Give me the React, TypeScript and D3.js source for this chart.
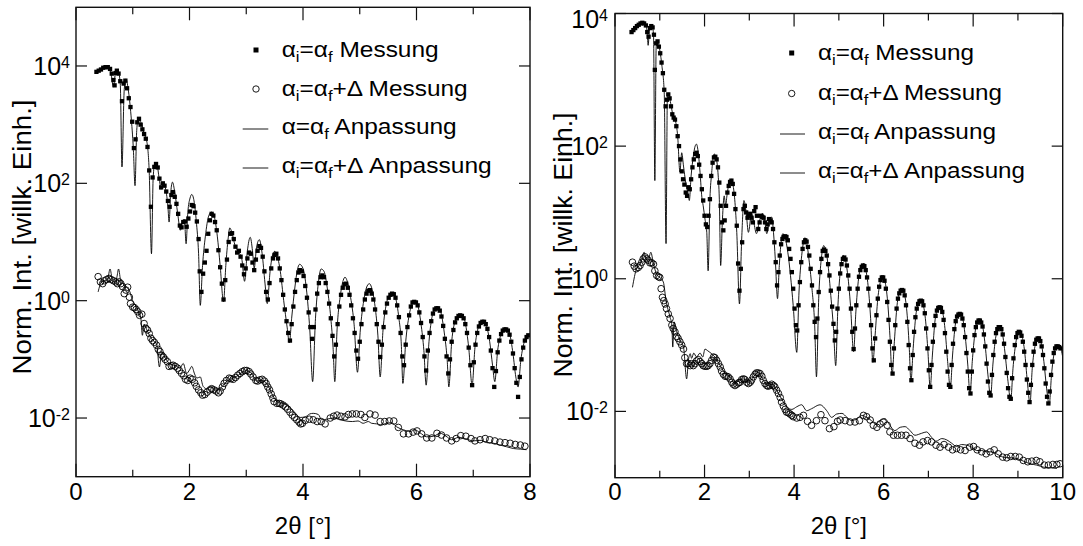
import React from "react";
import * as d3 from "d3";

// ---------- data: [2θ (deg), log10 of normalised intensity] ----------
const leftSquares: [number, number][] = [
[0.36,3.90],[0.40,3.92],[0.44,3.94],[0.48,3.97],[0.52,3.98],[0.56,3.98],[0.60,3.95],[0.63,3.87],[0.66,3.76],[0.68,3.67],[0.70,3.88],[0.72,3.92],[0.75,3.87],[0.78,3.74],[0.81,3.40],[0.84,3.70],[0.87,3.75],[0.90,3.62],[0.93,3.45],[0.96,3.30],[0.99,3.05],[1.02,2.60],[1.05,2.75],[1.08,3.04],[1.11,3.10],[1.14,3.00],[1.17,2.92],[1.20,2.84],[1.23,2.76],[1.26,2.62],[1.29,2.22],[1.32,1.60],[1.35,2.10],[1.38,2.28],[1.41,2.33],[1.44,2.27],[1.47,2.08],[1.50,1.93],[1.53,2.00],[1.56,1.96],[1.59,1.86],[1.62,1.70],[1.65,1.60],[1.68,1.80],[1.71,1.85],[1.74,1.77],[1.77,1.65],[1.80,1.48],[1.83,1.28],[1.86,1.25],[1.89,1.34],[1.92,1.35],[1.95,1.26],[1.98,1.40],[2.01,1.52],[2.04,1.63],[2.07,1.61],[2.10,1.50],[2.13,1.35],[2.16,1.05],[2.18,0.50],[2.21,0.15],[2.24,0.46],[2.27,0.65],[2.30,0.85],[2.33,1.14],[2.36,1.37],[2.39,1.48],[2.42,1.45],[2.45,1.34],[2.48,1.20],[2.51,0.86],[2.54,0.57],[2.57,0.29],[2.60,0.02],[2.63,0.35],[2.66,0.70],[2.69,1.00],[2.72,1.14],[2.75,1.15],[2.78,1.05],[2.81,0.92],[2.84,0.82],[2.87,0.85],[2.90,0.75],[2.93,0.60],[2.96,0.45],[2.99,0.55],[3.02,0.72],[3.05,0.82],[3.08,0.80],[3.11,0.65],[3.14,0.52],[3.17,0.70],[3.20,0.85],[3.23,0.93],[3.26,0.90],[3.29,0.75],[3.32,0.50],[3.35,0.15],[3.38,0.02],[3.41,0.30],[3.44,0.55],[3.47,0.72],[3.50,0.78],[3.53,0.80],[3.56,0.72],[3.59,0.55],[3.62,0.35],[3.65,0.10],[3.68,-0.15],[3.71,-0.35],[3.74,-0.55],[3.77,-0.68],[3.80,-0.40],[3.83,-0.10],[3.86,0.15],[3.89,0.35],[3.92,0.48],[3.95,0.52],[3.98,0.50],[4.01,0.42],[4.04,0.25],[4.07,0.05],[4.10,-0.20],[4.13,-0.45],[4.16,-0.65],[4.19,-0.45],[4.22,-0.15],[4.25,0.12],[4.28,0.30],[4.31,0.40],[4.34,0.43],[4.37,0.40],[4.40,0.30],[4.43,0.15],[4.46,-0.05],[4.49,-0.30],[4.52,-0.60],[4.55,-0.95],[4.58,-0.75],[4.61,-0.40],[4.64,-0.10],[4.67,0.10],[4.70,0.22],[4.73,0.28],[4.76,0.29],[4.79,0.22],[4.82,0.10],[4.85,-0.08],[4.88,-0.30],[4.91,-0.55],[4.94,-0.85],[4.97,-0.99],[5.00,-0.70],[5.03,-0.40],[5.06,-0.15],[5.09,0.02],[5.12,0.12],[5.15,0.17],[5.18,0.18],[5.21,0.12],[5.24,0.02],[5.27,-0.15],[5.30,-0.40],[5.33,-0.70],[5.36,-0.96],[5.39,-0.75],[5.42,-0.45],[5.45,-0.20],[5.48,-0.05],[5.51,0.05],[5.54,0.10],[5.57,0.12],[5.60,0.11],[5.63,0.05],[5.66,-0.08],[5.69,-0.28],[5.72,-0.55],[5.75,-0.95],[5.78,-1.10],[5.81,-0.75],[5.84,-0.45],[5.87,-0.25],[5.90,-0.10],[5.93,-0.03],[5.96,-0.02],[5.99,-0.03],[6.02,-0.08],[6.05,-0.20],[6.08,-0.38],[6.11,-0.62],[6.14,-0.95],[6.17,-1.19],[6.20,-0.85],[6.23,-0.55],[6.26,-0.35],[6.29,-0.22],[6.32,-0.15],[6.35,-0.13],[6.38,-0.13],[6.41,-0.17],[6.44,-0.27],[6.47,-0.43],[6.50,-0.65],[6.53,-0.95],[6.56,-1.24],[6.59,-1.00],[6.62,-0.70],[6.65,-0.50],[6.68,-0.37],[6.71,-0.30],[6.74,-0.26],[6.77,-0.25],[6.80,-0.26],[6.83,-0.30],[6.86,-0.40],[6.89,-0.55],[6.92,-0.80],[6.95,-1.10],[6.98,-1.44],[7.01,-1.05],[7.04,-0.75],[7.07,-0.55],[7.10,-0.44],[7.13,-0.38],[7.16,-0.36],[7.19,-0.36],[7.22,-0.40],[7.25,-0.48],[7.28,-0.62],[7.31,-0.85],[7.34,-1.15],[7.37,-1.47],[7.40,-1.20],[7.43,-0.88],[7.46,-0.68],[7.49,-0.57],[7.52,-0.51],[7.55,-0.49],[7.58,-0.49],[7.61,-0.51],[7.64,-0.58],[7.67,-0.70],[7.70,-0.90],[7.73,-1.15],[7.76,-1.40],[7.79,-1.64],[7.82,-1.30],[7.85,-1.00],[7.88,-0.80],[7.91,-0.68],[7.94,-0.62],[7.97,-0.59]
];

const leftFit: [number, number][] = [
[0.36,3.90],[0.45,3.95],[0.52,3.98],[0.58,3.97],[0.62,3.85],[0.66,3.64],[0.70,3.90],[0.74,3.92],[0.78,3.70],[0.81,2.28],[0.85,3.60],[0.88,3.78],[0.92,3.60],[0.97,3.15],[1.01,2.60],[1.04,1.96],[1.07,2.90],[1.10,3.12],[1.14,3.05],[1.20,2.85],[1.25,2.70],[1.29,2.20],[1.33,0.80],[1.36,2.10],[1.39,2.34],[1.43,2.30],[1.47,2.05],[1.50,1.90],[1.54,2.00],[1.58,1.90],[1.62,1.60],[1.64,1.34],[1.67,1.85],[1.70,2.02],[1.74,1.85],[1.79,1.50],[1.84,1.20],[1.88,1.35],[1.91,1.38],[1.94,0.97],[1.97,1.50],[2.01,1.75],[2.04,1.81],[2.08,1.70],[2.12,1.35],[2.16,0.80],[2.19,-0.08],[2.23,0.60],[2.28,1.10],[2.34,1.45],[2.39,1.51],[2.44,1.42],[2.49,1.10],[2.54,0.60],[2.60,-0.02],[2.64,0.60],[2.68,1.05],[2.71,1.24],[2.75,1.15],[2.80,0.95],[2.85,0.85],[2.92,0.72],[2.97,0.33],[3.02,0.85],[3.07,1.08],[3.11,0.85],[3.14,0.55],[3.18,0.90],[3.23,1.04],[3.28,0.80],[3.33,0.30],[3.37,-0.05],[3.42,0.50],[3.47,0.80],[3.50,0.84],[3.54,0.78],[3.60,0.50],[3.66,0.00],[3.72,-0.45],[3.76,-0.72],[3.80,-0.30],[3.86,0.25],[3.90,0.52],[3.94,0.62],[4.00,0.55],[4.06,0.20],[4.12,-0.50],[4.17,-1.38],[4.22,-0.30],[4.27,0.30],[4.32,0.54],[4.37,0.50],[4.43,0.20],[4.49,-0.30],[4.53,-0.80],[4.56,-1.38],[4.60,-0.50],[4.66,0.10],[4.71,0.35],[4.74,0.40],[4.78,0.33],[4.84,0.05],[4.90,-0.40],[4.96,-1.22],[5.01,-0.50],[5.07,0.00],[5.13,0.25],[5.17,0.29],[5.21,0.22],[5.27,-0.10],[5.32,-0.60],[5.36,-1.30],[5.41,-0.50],[5.47,-0.05],[5.53,0.10],[5.58,0.13],[5.63,0.05],[5.69,-0.30],[5.73,-0.70],[5.76,-1.41],[5.81,-0.70],[5.87,-0.25],[5.93,-0.04],[5.97,0.00],[6.02,-0.07],[6.08,-0.40],[6.13,-0.85],[6.17,-1.44],[6.22,-0.70],[6.28,-0.25],[6.34,-0.12],[6.38,-0.11],[6.43,-0.20],[6.49,-0.55],[6.54,-1.00],[6.57,-1.47],[6.62,-0.70],[6.69,-0.33],[6.75,-0.25],[6.80,-0.24],[6.86,-0.38],[6.92,-0.80],[6.98,-1.44],[7.03,-0.80],[7.09,-0.45],[7.14,-0.36],[7.18,-0.35],[7.23,-0.42],[7.29,-0.70],[7.34,-1.10],[7.38,-1.38],[7.43,-0.85],[7.49,-0.57],[7.55,-0.48],[7.59,-0.48],[7.64,-0.56],[7.70,-0.90],[7.75,-1.30],[7.79,-1.47],[7.84,-1.00],[7.90,-0.70],[7.96,-0.60],[8.00,-0.57]
];

const leftCircles: [number, number][] = [
[0.39,0.41],[0.43,0.32],[0.47,0.29],[0.50,0.34],[0.54,0.36],[0.58,0.38],[0.62,0.36],[0.66,0.34],[0.70,0.32],[0.73,0.29],[0.76,0.32],[0.79,0.29],[0.82,0.24],[0.85,0.12],[0.88,0.18],[0.91,0.23],[0.94,0.06],[0.96,-0.05],[1.00,-0.11],[1.03,-0.12],[1.06,-0.15],[1.09,-0.19],[1.12,-0.25],[1.16,-0.23],[1.20,-0.39],[1.23,-0.47],[1.26,-0.50],[1.29,-0.56],[1.32,-0.64],[1.35,-0.68],[1.38,-0.71],[1.42,-0.76],[1.45,-0.83],[1.48,-0.87],[1.51,-0.93],[1.54,-0.96],[1.57,-1.00],[1.61,-1.04],[1.64,-1.12],[1.68,-1.11],[1.71,-1.10],[1.75,-1.12],[1.79,-1.15],[1.82,-1.19],[1.86,-1.24],[1.90,-1.28],[1.93,-1.34],[1.97,-1.36],[2.01,-1.32],[2.05,-1.34],[2.09,-1.40],[2.12,-1.46],[2.16,-1.52],[2.20,-1.57],[2.23,-1.61],[2.27,-1.60],[2.31,-1.56],[2.36,-1.52],[2.39,-1.50],[2.43,-1.52],[2.47,-1.54],[2.51,-1.57],[2.54,-1.54],[2.58,-1.47],[2.61,-1.41],[2.65,-1.36],[2.70,-1.32],[2.73,-1.33],[2.77,-1.34],[2.81,-1.31],[2.85,-1.27],[2.89,-1.24],[2.93,-1.21],[2.97,-1.19],[3.01,-1.19],[3.05,-1.21],[3.08,-1.25],[3.12,-1.30],[3.17,-1.36],[3.20,-1.37],[3.24,-1.35],[3.28,-1.34],[3.32,-1.37],[3.35,-1.41],[3.38,-1.47],[3.41,-1.52],[3.44,-1.59],[3.47,-1.66],[3.49,-1.72],[3.54,-1.75],[3.58,-1.75],[3.61,-1.76],[3.65,-1.78],[3.69,-1.81],[3.73,-1.85],[3.77,-1.90],[3.81,-1.95],[3.85,-1.99],[3.89,-2.03],[3.93,-2.07],[3.96,-2.10],[3.99,-2.09],[4.04,-2.04],[4.11,-2.02],[4.18,-2.03],[4.25,-2.06],[4.32,-2.06],[4.39,-2.10],[4.48,-2.00],[4.54,-1.97],[4.60,-1.95],[4.67,-1.97],[4.74,-1.98],[4.80,-1.94],[4.87,-1.93],[4.94,-1.93],[5.02,-1.94],[5.09,-1.99],[5.18,-1.93],[5.27,-1.95],[5.36,-2.06],[5.44,-2.06],[5.52,-2.05],[5.60,-2.05],[5.68,-2.16],[5.77,-2.27],[5.86,-2.27],[5.94,-2.24],[6.01,-2.22],[6.09,-2.27],[6.18,-2.34],[6.27,-2.34],[6.36,-2.26],[6.44,-2.29],[6.53,-2.34],[6.62,-2.39],[6.70,-2.35],[6.78,-2.30],[6.87,-2.31],[6.96,-2.35],[7.03,-2.39],[7.12,-2.37],[7.21,-2.35],[7.29,-2.37],[7.38,-2.39],[7.47,-2.41],[7.56,-2.42],[7.65,-2.43],[7.74,-2.45],[7.83,-2.46],[7.91,-2.48]
];

const leftCircleFit: [number, number][] = [
[0.39,0.15],[0.45,0.32],[0.51,0.34],[0.56,0.38],[0.60,0.54],[0.64,0.36],[0.68,0.32],[0.72,0.40],[0.75,0.54],[0.79,0.33],[0.83,0.29],[0.89,0.23],[0.95,0.15],[0.99,0.02],[1.03,-0.05],[1.07,-0.12],[1.10,-0.19],[1.14,-0.28],[1.17,-0.59],[1.20,-0.40],[1.25,-0.50],[1.30,-0.60],[1.36,-0.68],[1.42,-0.74],[1.47,-1.13],[1.51,-0.87],[1.56,-0.95],[1.60,-1.02],[1.66,-1.08],[1.72,-1.10],[1.78,-1.12],[1.83,-1.15],[1.89,-1.07],[1.95,-1.24],[2.00,-1.18],[2.04,-1.12],[2.09,-1.25],[2.13,-1.32],[2.19,-1.30],[2.24,-1.46],[2.30,-1.50],[2.39,-1.47],[2.48,-1.53],[2.57,-1.47],[2.65,-1.38],[2.74,-1.33],[2.83,-1.29],[2.92,-1.23],[3.01,-1.19],[3.10,-1.25],[3.18,-1.37],[3.27,-1.36],[3.36,-1.41],[3.48,-1.64],[3.57,-1.74],[3.65,-1.75],[3.77,-1.82],[3.86,-1.91],[3.95,-1.99],[4.04,-1.98],[4.12,-1.93],[4.18,-1.92],[4.27,-1.94],[4.33,-2.03],[4.42,-2.02],[4.54,-2.00],[4.65,-2.03],[4.75,-2.05],[4.87,-2.06],[4.97,-2.05],[5.06,-2.09],[5.15,-2.06],[5.21,-2.09],[5.30,-2.10],[5.36,-2.13],[5.46,-2.09],[5.56,-2.08],[5.65,-2.15],[5.77,-2.20],[5.89,-2.23],[5.97,-2.20],[6.06,-2.25],[6.18,-2.32],[6.30,-2.31],[6.42,-2.26],[6.52,-2.31],[6.62,-2.37],[6.74,-2.33],[6.86,-2.35],[7.00,-2.39],[7.12,-2.38],[7.24,-2.42],[7.36,-2.43],[7.47,-2.46],[7.59,-2.49],[7.71,-2.52],[7.83,-2.53],[7.94,-2.54]
];

const rightSquares: [number, number][] = [
[0.37,3.72],[0.41,3.75],[0.45,3.78],[0.49,3.81],[0.53,3.83],[0.57,3.85],[0.61,3.86],[0.65,3.85],[0.69,3.82],[0.72,3.72],[0.75,3.65],[0.78,3.78],[0.81,3.81],[0.84,3.79],[0.87,3.68],[0.89,3.15],[0.92,3.55],[0.95,3.58],[0.98,3.50],[1.01,3.40],[1.04,3.26],[1.07,3.10],[1.10,2.85],[1.13,2.60],[1.16,2.70],[1.19,2.78],[1.22,2.72],[1.25,2.60],[1.28,2.48],[1.31,2.43],[1.34,2.40],[1.37,2.30],[1.40,2.15],[1.43,2.00],[1.46,1.80],[1.49,1.62],[1.52,1.50],[1.55,1.42],[1.58,1.30],[1.61,1.25],[1.64,1.38],[1.67,1.35],[1.70,1.50],[1.73,1.68],[1.76,1.80],[1.79,1.88],[1.82,1.90],[1.85,1.85],[1.88,1.72],[1.91,1.55],[1.94,1.35],[1.97,1.18],[2.00,0.95],[2.03,0.82],[2.06,0.78],[2.09,0.95],[2.12,1.20],[2.15,1.55],[2.18,1.75],[2.21,1.83],[2.24,1.84],[2.27,1.80],[2.30,1.68],[2.33,1.45],[2.36,1.10],[2.39,0.85],[2.42,0.73],[2.45,0.88],[2.48,1.10],[2.51,1.30],[2.54,1.40],[2.57,1.46],[2.60,1.48],[2.63,1.43],[2.66,1.28],[2.69,1.05],[2.72,0.80],[2.75,0.23],[2.78,-0.18],[2.81,0.15],[2.84,0.55],[2.87,1.05],[2.90,1.10],[2.93,1.00],[2.96,0.92],[2.99,0.95],[3.02,0.98],[3.05,0.92],[3.08,0.85],[3.11,1.02],[3.14,1.08],[3.17,0.95],[3.20,0.75],[3.23,0.85],[3.26,0.95],[3.29,0.93],[3.32,0.92],[3.35,0.85],[3.38,0.75],[3.41,0.82],[3.44,0.90],[3.47,0.88],[3.50,0.85],[3.53,0.75],[3.56,0.55],[3.59,0.25],[3.62,-0.10],[3.65,0.10],[3.68,0.35],[3.71,0.52],[3.74,0.60],[3.77,0.63],[3.80,0.64],[3.83,0.63],[3.86,0.58],[3.89,0.45],[3.92,0.30],[3.95,0.10],[3.98,-0.15],[4.01,-0.45],[4.04,-0.70],[4.07,-0.78],[4.10,-0.40],[4.13,-0.05],[4.16,0.25],[4.19,0.45],[4.22,0.55],[4.25,0.58],[4.28,0.56],[4.31,0.48],[4.34,0.35],[4.37,0.15],[4.40,-0.10],[4.43,-0.40],[4.46,-0.65],[4.49,-0.88],[4.52,-0.60],[4.55,-0.20],[4.58,0.10],[4.61,0.30],[4.64,0.42],[4.67,0.44],[4.70,0.42],[4.73,0.35],[4.76,0.22],[4.79,0.05],[4.82,-0.18],[4.85,-0.42],[4.88,-0.68],[4.91,-0.93],[4.94,-0.80],[4.97,-0.45],[5.00,-0.15],[5.03,0.08],[5.06,0.22],[5.09,0.30],[5.12,0.32],[5.15,0.29],[5.18,0.20],[5.21,0.05],[5.24,-0.15],[5.27,-0.45],[5.30,-0.80],[5.33,-1.06],[5.36,-0.75],[5.39,-0.40],[5.42,-0.15],[5.45,0.03],[5.48,0.13],[5.51,0.18],[5.54,0.20],[5.57,0.19],[5.60,0.13],[5.63,0.02],[5.66,-0.15],[5.69,-0.40],[5.72,-0.70],[5.75,-1.05],[5.78,-1.23],[5.81,-0.90],[5.84,-0.55],[5.87,-0.30],[5.90,-0.12],[5.93,-0.02],[5.96,0.02],[5.99,0.02],[6.02,-0.03],[6.05,-0.15],[6.08,-0.35],[6.11,-0.62],[6.14,-0.95],[6.17,-1.30],[6.20,-1.43],[6.23,-1.05],[6.26,-0.70],[6.29,-0.45],[6.32,-0.30],[6.35,-0.22],[6.38,-0.18],[6.41,-0.17],[6.44,-0.18],[6.47,-0.25],[6.50,-0.40],[6.53,-0.65],[6.56,-1.00],[6.59,-1.35],[6.62,-1.53],[6.65,-1.15],[6.68,-0.80],[6.71,-0.58],[6.74,-0.45],[6.77,-0.38],[6.80,-0.34],[6.83,-0.33],[6.86,-0.34],[6.89,-0.40],[6.92,-0.52],[6.95,-0.75],[6.98,-1.05],[7.01,-1.38],[7.04,-1.63],[7.07,-1.30],[7.10,-0.95],[7.13,-0.70],[7.16,-0.56],[7.19,-0.48],[7.22,-0.44],[7.25,-0.43],[7.28,-0.44],[7.31,-0.50],[7.34,-0.62],[7.37,-0.82],[7.40,-1.10],[7.43,-1.40],[7.46,-1.60],[7.49,-1.63],[7.52,-1.30],[7.55,-0.98],[7.58,-0.76],[7.61,-0.64],[7.64,-0.57],[7.67,-0.54],[7.70,-0.53],[7.73,-0.54],[7.76,-0.60],[7.79,-0.70],[7.82,-0.88],[7.85,-1.12],[7.88,-1.40],[7.91,-1.65],[7.94,-1.73],[7.97,-1.40],[8.00,-1.08],[8.03,-0.85],[8.06,-0.73],[8.09,-0.66],[8.12,-0.63],[8.15,-0.63],[8.18,-0.66],[8.21,-0.72],[8.24,-0.84],[8.27,-1.02],[8.30,-1.28],[8.33,-1.55],[8.36,-1.72],[8.39,-1.76],[8.42,-1.45],[8.45,-1.15],[8.48,-0.95],[8.51,-0.82],[8.54,-0.76],[8.57,-0.73],[8.60,-0.73],[8.63,-0.76],[8.66,-0.84],[8.69,-0.98],[8.72,-1.18],[8.75,-1.42],[8.78,-1.65],[8.81,-1.78],[8.84,-1.81],[8.87,-1.50],[8.90,-1.20],[8.93,-1.00],[8.96,-0.88],[8.99,-0.82],[9.02,-0.80],[9.05,-0.81],[9.08,-0.86],[9.11,-0.95],[9.14,-1.10],[9.17,-1.30],[9.20,-1.52],[9.23,-1.72],[9.26,-1.86],[9.29,-1.60],[9.32,-1.30],[9.35,-1.10],[9.38,-0.98],[9.41,-0.92],[9.44,-0.90],[9.47,-0.90],[9.50,-0.94],[9.53,-1.02],[9.56,-1.15],[9.59,-1.35],[9.62,-1.58],[9.65,-1.78],[9.68,-1.88],[9.71,-1.70],[9.74,-1.45],[9.77,-1.25],[9.80,-1.12],[9.83,-1.05],[9.86,-1.02],[9.89,-1.02],[9.92,-1.03],[9.95,-1.05]
];

const rightFit: [number, number][] = [
[0.37,3.72],[0.50,3.82],[0.60,3.86],[0.68,3.83],[0.72,3.70],[0.74,3.52],[0.77,3.75],[0.82,3.82],[0.86,3.70],[0.89,1.48],[0.92,3.50],[0.96,3.58],[1.00,3.45],[1.05,3.20],[1.10,2.80],[1.14,0.53],[1.17,2.75],[1.20,2.80],[1.25,2.62],[1.30,2.45],[1.35,2.38],[1.40,2.15],[1.45,1.61],[1.49,1.90],[1.53,1.70],[1.58,1.45],[1.63,1.30],[1.66,1.18],[1.70,1.55],[1.75,1.85],[1.79,2.00],[1.82,2.03],[1.86,1.90],[1.90,1.60],[1.94,1.23],[1.97,1.10],[2.01,0.90],[2.05,0.70],[2.08,0.12],[2.12,1.20],[2.16,1.60],[2.19,1.82],[2.22,1.88],[2.26,1.82],[2.30,1.60],[2.33,1.20],[2.36,0.20],[2.40,0.90],[2.44,1.25],[2.47,1.10],[2.50,1.25],[2.55,1.45],[2.60,1.50],[2.64,1.40],[2.68,1.15],[2.72,0.70],[2.78,-0.38],[2.83,0.60],[2.88,1.18],[2.93,1.00],[2.98,0.70],[3.05,0.98],[3.10,0.85],[3.16,0.68],[3.22,0.85],[3.28,0.98],[3.31,0.98],[3.35,0.85],[3.39,0.68],[3.44,0.85],[3.50,0.93],[3.54,0.70],[3.58,0.30],[3.63,-0.30],[3.67,0.20],[3.71,0.55],[3.75,0.68],[3.80,0.62],[3.86,0.40],[3.92,0.05],[3.98,-0.40],[4.06,-1.11],[4.11,-0.20],[4.17,0.35],[4.21,0.55],[4.24,0.62],[4.28,0.55],[4.34,0.25],[4.40,-0.15],[4.46,-0.70],[4.50,-1.48],[4.55,-0.30],[4.60,0.25],[4.64,0.45],[4.66,0.50],[4.70,0.45],[4.76,0.20],[4.82,-0.25],[4.88,-0.75],[4.93,-1.31],[4.98,-0.40],[5.03,0.10],[5.07,0.30],[5.10,0.35],[5.14,0.30],[5.20,0.05],[5.26,-0.40],[5.33,-1.10],[5.38,-0.50],[5.44,0.00],[5.50,0.18],[5.55,0.23],[5.60,0.14],[5.66,-0.15],[5.71,-0.60],[5.76,-1.26],[5.81,-0.85],[5.87,-0.30],[5.93,-0.04],[5.98,0.03],[6.03,-0.04],[6.09,-0.35],[6.14,-0.85],[6.19,-1.45],[6.24,-0.95],[6.30,-0.40],[6.36,-0.20],[6.41,-0.16],[6.46,-0.22],[6.52,-0.50],[6.57,-1.00],[6.61,-1.55],[6.66,-1.05],[6.72,-0.55],[6.78,-0.37],[6.83,-0.32],[6.88,-0.38],[6.94,-0.65],[6.99,-1.10],[7.04,-1.65],[7.09,-1.15],[7.15,-0.62],[7.21,-0.46],[7.26,-0.42],[7.31,-0.48],[7.37,-0.75],[7.43,-1.25],[7.49,-1.65],[7.54,-1.15],[7.60,-0.70],[7.66,-0.55],[7.71,-0.52],[7.76,-0.58],[7.82,-0.85],[7.88,-1.30],[7.93,-1.75],[7.98,-1.25],[8.04,-0.82],[8.10,-0.66],[8.15,-0.62],[8.20,-0.68],[8.26,-0.95],[8.33,-1.45],[8.39,-1.78],[8.44,-1.30],[8.50,-0.90],[8.55,-0.76],[8.59,-0.72],[8.64,-0.78],[8.70,-1.05],[8.77,-1.50],[8.84,-1.83],[8.89,-1.35],[8.95,-0.98],[9.00,-0.82],[9.04,-0.79],[9.09,-0.86],[9.15,-1.10],[9.21,-1.55],[9.27,-1.88],[9.32,-1.35],[9.38,-1.02],[9.43,-0.91],[9.47,-0.89],[9.52,-0.97],[9.58,-1.25],[9.64,-1.65],[9.70,-1.90],[9.75,-1.45],[9.81,-1.12],[9.87,-1.02],[9.93,-1.02],[9.97,-1.08],[10.0,-1.18]
];

const rightCircles: [number, number][] = [
[0.39,0.25],[0.43,0.19],[0.47,0.15],[0.52,0.17],[0.56,0.20],[0.60,0.25],[0.63,0.30],[0.67,0.33],[0.71,0.30],[0.74,0.28],[0.78,0.24],[0.82,0.24],[0.86,0.22],[0.89,0.12],[0.93,0.05],[0.97,0.03],[1.00,0.02],[1.03,-0.15],[1.06,-0.28],[1.09,-0.33],[1.12,-0.38],[1.15,-0.45],[1.19,-0.53],[1.23,-0.60],[1.27,-0.70],[1.30,-0.75],[1.34,-0.80],[1.38,-0.87],[1.41,-0.90],[1.45,-0.95],[1.49,-1.00],[1.53,-1.06],[1.56,-1.19],[1.60,-1.28],[1.64,-1.28],[1.68,-1.31],[1.71,-1.28],[1.75,-1.31],[1.79,-1.28],[1.82,-1.24],[1.86,-1.22],[1.90,-1.25],[1.94,-1.28],[1.97,-1.31],[2.01,-1.32],[2.05,-1.32],[2.08,-1.31],[2.12,-1.28],[2.16,-1.23],[2.20,-1.18],[2.23,-1.19],[2.27,-1.23],[2.31,-1.28],[2.35,-1.33],[2.38,-1.39],[2.42,-1.44],[2.46,-1.47],[2.49,-1.47],[2.53,-1.48],[2.57,-1.51],[2.61,-1.56],[2.64,-1.59],[2.68,-1.61],[2.72,-1.59],[2.76,-1.57],[2.79,-1.56],[2.83,-1.52],[2.87,-1.51],[2.90,-1.52],[2.94,-1.56],[2.98,-1.58],[3.02,-1.56],[3.05,-1.53],[3.09,-1.48],[3.13,-1.44],[3.16,-1.42],[3.20,-1.42],[3.24,-1.43],[3.28,-1.47],[3.31,-1.53],[3.35,-1.58],[3.39,-1.61],[3.42,-1.62],[3.46,-1.61],[3.50,-1.59],[3.54,-1.61],[3.57,-1.63],[3.61,-1.68],[3.65,-1.73],[3.69,-1.79],[3.72,-1.86],[3.76,-1.92],[3.80,-1.97],[3.83,-2.01],[3.87,-2.02],[3.91,-2.04],[3.95,-2.06],[3.98,-2.08],[4.06,-2.10],[4.13,-2.09],[4.21,-2.06],[4.30,-2.15],[4.39,-2.21],[4.50,-2.14],[4.60,-2.05],[4.69,-2.14],[4.79,-2.26],[4.89,-2.23],[4.97,-2.15],[5.03,-2.13],[5.14,-2.14],[5.25,-2.16],[5.36,-2.16],[5.46,-2.14],[5.55,-2.06],[5.62,-2.08],[5.70,-2.13],[5.77,-2.21],[5.85,-2.24],[5.92,-2.19],[5.99,-2.16],[6.08,-2.21],[6.14,-2.31],[6.22,-2.36],[6.31,-2.36],[6.40,-2.36],[6.50,-2.36],[6.59,-2.41],[6.70,-2.48],[6.80,-2.51],[6.88,-2.46],[6.98,-2.44],[7.07,-2.46],[7.17,-2.51],[7.26,-2.54],[7.35,-2.50],[7.45,-2.54],[7.54,-2.58],[7.63,-2.56],[7.72,-2.58],[7.82,-2.59],[7.92,-2.54],[8.01,-2.53],[8.09,-2.58],[8.19,-2.61],[8.29,-2.64],[8.38,-2.61],[8.47,-2.58],[8.56,-2.64],[8.66,-2.69],[8.75,-2.70],[8.84,-2.68],[8.94,-2.68],[9.03,-2.69],[9.12,-2.74],[9.22,-2.76],[9.31,-2.75],[9.41,-2.74],[9.49,-2.76],[9.59,-2.81],[9.68,-2.81],[9.78,-2.80],[9.87,-2.80],[9.94,-2.79]
];

const rightCircleFit: [number, number][] = [
[0.39,-0.13],[0.48,0.15],[0.56,0.22],[0.60,0.29],[0.65,0.40],[0.69,0.30],[0.74,0.28],[0.80,0.40],[0.86,0.22],[0.93,0.07],[1.00,0.02],[1.08,-0.05],[1.14,-0.33],[1.23,-0.58],[1.27,-0.70],[1.29,-1.03],[1.32,-0.65],[1.38,-0.80],[1.45,-0.93],[1.53,-1.03],[1.60,-1.51],[1.64,-1.23],[1.68,-1.13],[1.71,-1.20],[1.76,-1.12],[1.82,-1.18],[1.90,-1.12],[1.96,-1.18],[2.01,-1.06],[2.06,-1.08],[2.12,-1.11],[2.23,-1.18],[2.35,-1.31],[2.46,-1.43],[2.57,-1.48],[2.68,-1.58],[2.76,-1.53],[2.87,-1.51],[2.98,-1.57],[3.09,-1.48],[3.20,-1.41],[3.31,-1.53],[3.42,-1.61],[3.52,-1.59],[3.61,-1.68],[3.72,-1.81],[3.83,-1.93],[3.95,-1.97],[4.06,-1.93],[4.17,-1.90],[4.28,-1.99],[4.39,-1.96],[4.58,-1.90],[4.73,-1.99],[4.84,-2.09],[4.95,-2.04],[5.07,-2.03],[5.18,-2.09],[5.29,-2.14],[5.40,-2.11],[5.51,-2.06],[5.62,-2.09],[5.73,-2.14],[5.81,-2.19],[5.92,-2.14],[6.03,-2.11],[6.14,-2.21],[6.25,-2.29],[6.37,-2.24],[6.48,-2.23],[6.59,-2.29],[6.70,-2.36],[6.85,-2.33],[6.96,-2.31],[7.07,-2.39],[7.17,-2.45],[7.30,-2.41],[7.41,-2.43],[7.52,-2.48],[7.63,-2.53],[7.74,-2.50],[7.86,-2.51],[7.97,-2.54],[8.08,-2.59],[8.19,-2.59],[8.30,-2.61],[8.41,-2.61],[8.52,-2.64],[8.67,-2.69],[8.82,-2.70],[8.97,-2.71],[9.12,-2.75],[9.27,-2.79],[9.42,-2.81],[9.57,-2.84],[9.72,-2.85],[9.87,-2.86]
];

const leftXTicks = [0, 1, 2, 3, 4, 5, 6, 7, 8];
const rightXTicks = [0, 1, 2, 3, 4, 5, 6, 7, 8, 9, 10];
const yTickExps = [-2, 0, 2, 4];
const yTitle = "Norm. Int. [willk. Einh.]";
const xTitle = "2\u03b8 [\u00b0]";

const FONT = '"Liberation Sans", Arial, Helvetica, sans-serif';

type Pt = [number, number];

function LegendText({ x, y, parts, width }: { x: number; y: number; parts: [string, string][]; width: number }) {
  const nodes: any[] = [];
  let prev = "n";
  parts.forEach(([t, k], i) => {
    let dy = 0;
    if (k === "s" && prev === "n") dy = 5;
    if (k === "n" && prev === "s") dy = -5;
    nodes.push(
      <tspan key={i} dy={dy} fontSize={k === "s" ? 15 : 22}>
        {t}
      </tspan>
    );
    prev = k;
  });
  return (
    <text x={x} y={y} fontSize={22} fontFamily={FONT} textLength={width} lengthAdjust="spacingAndGlyphs" fill="#000">
      {nodes}
    </text>
  );
}

interface PanelProps {
  id: string;
  x0: number; x1: number; y0: number; y1: number;
  xMax: number; yMin: number; yMax: number;
  xTicks: number[];
  squares: Pt[]; fit: Pt[]; circles: Pt[]; circleFit: Pt[];
  legendX: number; legendMarkerX: number; legendLine: [number, number]; legendBase: number[];
  legendRows: { parts: [string, string][]; width: number }[];
  yTitleX: number; yTitleY: number; yTitleLen: number;
  labelRight: number; topLabelShift: number;
}

function Panel(p: PanelProps) {
  const x = d3.scaleLinear().domain([0, p.xMax]).range([p.x0, p.x1]);
  const y = d3.scaleLog().domain([p.yMin, p.yMax]).range([p.y1, p.y0]);
  const toVal = (d: Pt) => ({ a: d[0], v: Math.pow(10, d[1]) });
  const line = d3
    .line<{ a: number; v: number }>()
    .x((d) => x(d.a))
    .y((d) => y(d.v))
    .curve(d3.curveMonotoneX);
  const sq = p.squares.map(toVal);
  const ci = p.circles.map(toVal);
  const f1 = p.fit.map(toVal);
  const f2 = p.circleFit.map(toVal);
  const clip = `clip-${p.id}`;
  const stroke = "#111";
  const s = 4.3;
  return (
    <g>
      <defs>
        <clipPath id={clip}>
          <rect x={p.x0} y={p.y0} width={p.x1 - p.x0} height={p.y1 - p.y0} />
        </clipPath>
      </defs>
      <g clipPath={`url(#${clip})`}>
        <path d={line(f2) || ""} fill="none" stroke="#000" strokeWidth={0.9} />
        <path d={line(f1) || ""} fill="none" stroke="#000" strokeWidth={0.9} />
        {ci.map((d, i) => (
          <circle key={"c" + i} cx={x(d.a)} cy={y(d.v)} r={3.3} fill="none" stroke="#000" strokeWidth={0.9} />
        ))}
        {sq.map((d, i) => (
          <rect key={"s" + i} x={x(d.a) - s / 2} y={y(d.v) - s / 2} width={s} height={s} fill="#000" />
        ))}
      </g>
      <rect x={p.x0} y={p.y0} width={p.x1 - p.x0} height={p.y1 - p.y0} fill="none" stroke={stroke} strokeWidth={1.4} />
      {p.xTicks.map((t) => {
        const major = t % 2 === 0;
        const len = major ? 13 : 7;
        return (
          <g key={"xt" + t}>
            <line x1={x(t)} x2={x(t)} y1={p.y1} y2={p.y1 - len} stroke={stroke} strokeWidth={1.2} />
            <line x1={x(t)} x2={x(t)} y1={p.y0} y2={p.y0 + len} stroke={stroke} strokeWidth={1.2} />
            {major && (
              <text x={x(t)} y={500} textAnchor="middle" fontSize={24} fontFamily={FONT} fill="#000">
                {t}
              </text>
            )}
          </g>
        );
      })}
      {yTickExps.map((e) => {
        const yy = y(Math.pow(10, e));
        const base = e === 4 && p.topLabelShift ? yy + 9 + p.topLabelShift : yy + 9;
        return (
          <g key={"yt" + e}>
            <line x1={p.x0} x2={p.x0 + 11} y1={yy} y2={yy} stroke={stroke} strokeWidth={1.2} />
            <line x1={p.x1} x2={p.x1 - 11} y1={yy} y2={yy} stroke={stroke} strokeWidth={1.2} />
            <text x={p.labelRight} y={base} textAnchor="end" fontSize={25} fontFamily={FONT} fill="#000">
              10
              <tspan dy={-7} fontSize={16}>
                {String(e)}
              </tspan>
            </text>
          </g>
        );
      })}
      <text x={(p.x0 + p.x1) / 2} y={534} textAnchor="middle" fontSize={24} fontFamily={FONT} fill="#000">
        {xTitle}
      </text>
      <text
        transform={`translate(${p.yTitleX},${p.yTitleY}) rotate(-90)`}
        textAnchor="middle"
        fontSize={25}
        fontFamily={FONT}
        textLength={p.yTitleLen}
        lengthAdjust="spacingAndGlyphs"
        fill="#000"
      >
        {yTitle}
      </text>
      <rect x={p.legendMarkerX - 2.5} y={p.legendBase[0] - 9.5} width={5} height={5} fill="#000" />
      <circle cx={p.legendMarkerX} cy={p.legendBase[1] - 6.5} r={3.2} fill="none" stroke="#000" strokeWidth={0.9} />
      <line x1={p.legendLine[0]} x2={p.legendLine[1]} y1={p.legendBase[2] - 5} y2={p.legendBase[2] - 5} stroke="#000" strokeWidth={0.9} />
      <line x1={p.legendLine[0]} x2={p.legendLine[1]} y1={p.legendBase[3] - 5} y2={p.legendBase[3] - 5} stroke="#000" strokeWidth={0.9} />
      {p.legendRows.map((r, i) => (
        <LegendText key={"lg" + i} x={p.legendX} y={p.legendBase[i]} parts={r.parts} width={r.width} />
      ))}
    </g>
  );
}

const A = "\u03b1";
const D = "\u0394";

export default function App() {
  return (
    <svg width={1083} height={546} style={{ position: "absolute", left: 0, top: 0, background: "#fff" }}>
      <rect x={0} y={0} width={1083} height={546} fill="#fff" />
      <Panel
        id="L"
        x0={76} x1={530} y0={7.3} y1={476.7}
        xMax={8} yMin={1e-3} yMax={1e5}
        xTicks={leftXTicks}
        squares={leftSquares} fit={leftFit} circles={leftCircles} circleFit={leftCircleFit}
        legendX={281.7} legendMarkerX={256} legendLine={[242.7, 268.3]} legendBase={[57, 95.5, 134, 173]}
        legendRows={[
          { parts: [[A, "n"], ["i", "s"], ["=" + A, "n"], ["f", "s"], [" Messung", "n"]], width: 157 },
          { parts: [[A, "n"], ["i", "s"], ["=" + A, "n"], ["f", "s"], ["+" + D + " Messung", "n"]], width: 186 },
          { parts: [[A + "=" + A, "n"], ["f", "s"], [" Anpassung", "n"]], width: 175 },
          { parts: [[A, "n"], ["i", "s"], ["=" + A, "n"], ["f", "s"], ["+" + D + " Anpassung", "n"]], width: 210 },
        ]}
        yTitleX={31} yTitleY={237} yTitleLen={275}
        labelRight={70} topLabelShift={0}
      />
      <Panel
        id="R"
        x0={615} x1={1062.7} y0={13.5} y1={477.7}
        xMax={10} yMin={1e-3} yMax={1e4}
        xTicks={rightXTicks}
        squares={rightSquares} fit={rightFit} circles={rightCircles} circleFit={rightCircleFit}
        legendX={818} legendMarkerX={791.7} legendLine={[780, 805]} legendBase={[60, 100, 139, 178]}
        legendRows={[
          { parts: [[A, "n"], ["i", "s"], ["=" + A, "n"], ["f", "s"], [" Messung", "n"]], width: 156 },
          { parts: [[A, "n"], ["i", "s"], ["=" + A, "n"], ["f", "s"], ["+" + D + " Messung", "n"]], width: 184 },
          { parts: [[A, "n"], ["i", "s"], ["=" + A, "n"], ["f", "s"], [" Anpassung", "n"]], width: 178 },
          { parts: [[A, "n"], ["i", "s"], ["=" + A, "n"], ["f", "s"], ["+" + D + " Anpassung", "n"]], width: 207 },
        ]}
        yTitleX={572} yTitleY={245} yTitleLen={265}
        labelRight={608} topLabelShift={5}
      />
    </svg>
  );
}
